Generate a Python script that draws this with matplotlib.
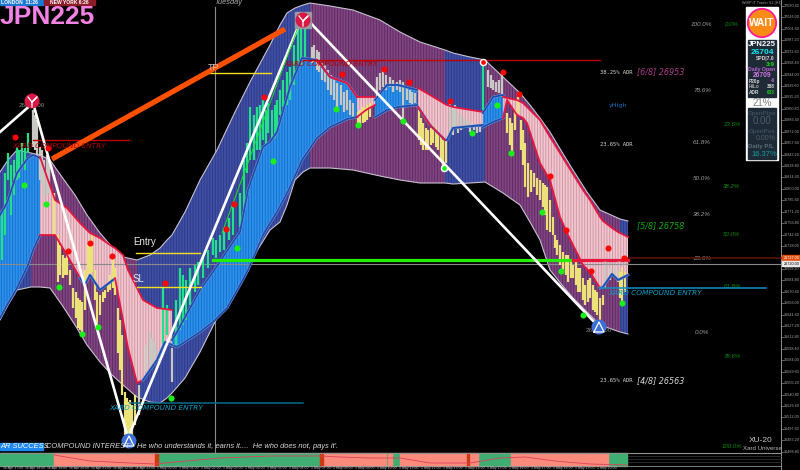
import numpy as np
import matplotlib
matplotlib.use('Agg')
import matplotlib.pyplot as plt
from matplotlib.patches import Circle, Rectangle

# everything: x = chart column, y = chart row
env_x = [0,8,17,31,40,50,62,75,87,100,112,123,137,150,160,167,172,185,200,217,235,250,270,280,287,295,303,310,330,353,380,400,420,445,453,470,485,503,520,530,540,550,562,573,587,600,620,628]
env_top = [172,160,150,153,155,160,177,195,215,233,247,257,260,255,248,240,235,212,180,150,112,82,45,25,13,8,5,3,6,10,20,32,42,50,53,57,60,77,93,105,118,132,152,170,192,210,219,221]
env_bot = [320,305,290,287,287,288,305,325,345,362,375,385,397,402,403,398,393,378,352,318,285,262,230,222,205,180,172,168,168,170,176,180,183,183,184,183,182,193,205,222,240,270,285,298,312,325,332,334]
env_blue = [(0,31),(137,310),(445,485),(620,628)]
env_purple = [(31,137),(310,445),(485,620)]

# inner cloud pieces: x, top, bottom
blue1_x = [0,7,17,28,33,40]
blue1_top = [215,203,173,158,155,158]
blue1_bot = [318,305,288,265,250,235]
pink1_x = [40,55,67,80,85,90,100,113,115,123,128,137,143,157,165,172]
pink1_top = [157,200,208,223,228,233,238,247,248,255,270,288,300,308,309,310]
pink1_bot = [235,235,255,278,285,275,290,280,278,320,348,383,380,360,342,345]
blue2_x = [172,177,200,213,227,240,248,263,270,277,290,302,317,330,347,357]
blue2_top = [340,332,290,272,251,232,190,147,142,132,87,58,60,77,83,97]
blue2_bot = [345,347,332,322,308,285,270,235,223,212,187,160,138,127,119,117]
pink2_x = [357,366,375]
pink2_top = [97,97,97]
pink2_bot = [117,110,105]
blue3_x = [375,387,398,417]
blue3_top = [100,85,85,90]
blue3_bot = [117,110,107,105]
pink3_x = [418,430,445,447,453,483]
pink3_top = [88,95,104,105,107,112]
pink3_bot = [107,125,140,140,128,125]
blue4_x = [483,493,503]
blue4_top = [113,97,95]
blue4_bot = [127,122,118]
pink4_x = [503,507,517,523,527,540,550,560,568,583,590,600,603,612,618,628]
pink4_top = [97,98,100,103,107,120,137,153,166,190,200,217,221,228,232,237]
pink4_bot = [118,100,115,118,123,163,180,217,235,265,272,288,287,274,280,275]

# candles: column, high row, low row
green_x = [2,5,8,11,14,17,19,22,25,28,163,167,176,180,183,186,190,195,198,203,208,213,216,220,224,229,233,240,244,247,250,254,257,260,263,266,268,272,275,277,280,283,287,290,294,298,301,305,483]
green_hi = [210,173,153,165,160,147,150,143,148,133,288,305,300,268,275,280,268,265,262,255,250,238,240,235,228,218,207,193,160,143,107,115,107,105,100,110,103,110,105,100,90,80,72,67,45,23,28,23,62]
green_lo = [260,235,180,215,195,180,178,167,170,153,345,335,345,330,325,320,305,292,285,278,268,255,258,252,250,240,235,227,210,173,160,160,150,150,140,145,133,140,138,133,115,107,105,100,85,67,65,57,110]
grey_x = [33,35,37,40,42,44,47,49,139,146,150,152,155,158,172,312,314,317,319,322,325,328,331,334,337,341,344,347,350,353,377,380,383,386,390,393,397,400,403,407,410,412,415,450,453,455,458,461,464,467,470,474,477,480,488,491,493,496,499,502,605,610,615,618]
grey_hi = [110,115,120,147,150,160,155,160,385,345,332,338,342,350,348,47,45,50,52,63,65,70,75,78,83,85,92,90,100,103,77,73,70,75,77,80,82,80,82,88,90,92,93,100,110,105,113,115,118,120,122,124,125,127,70,75,80,82,80,73,265,268,265,270]
grey_lo = [147,150,157,180,185,200,195,193,415,372,368,365,362,360,382,63,62,70,72,80,82,90,95,100,110,105,112,110,115,117,97,90,87,90,87,92,90,92,120,100,103,105,103,133,135,128,133,130,128,128,132,130,133,132,87,88,90,92,93,97,288,280,278,282]
yellow_x = [54,58,60,63,65,67,70,73,76,78,80,82,85,88,90,92,95,97,100,103,105,108,110,113,115,118,120,122,125,127,128,130,132,135,358,360,363,365,367,370,419,421,423,426,428,431,433,436,438,441,443,446,507,510,512,515,518,521,523,525,528,531,534,537,540,543,545,547,550,553,555,557,560,563,566,568,571,573,576,578,580,583,585,588,590,593,595,597,600,603,620,622,625]
yellow_hi = [193,235,245,255,258,252,270,288,292,298,300,302,270,245,240,235,270,292,295,292,290,282,275,255,268,308,320,335,392,398,402,400,405,395,112,110,107,108,105,103,110,118,123,128,130,128,125,128,133,135,140,140,113,118,123,110,97,120,130,143,163,170,173,178,180,183,185,187,200,217,235,240,245,252,255,255,260,265,262,268,268,278,285,280,278,285,290,292,298,295,272,268,272]
yellow_lo = [235,282,275,278,275,275,285,308,318,328,330,335,310,278,275,272,300,325,315,302,298,292,290,288,295,353,370,395,435,435,435,435,435,425,128,125,123,122,120,117,140,145,150,150,150,145,143,147,150,160,170,163,133,145,153,130,113,150,165,187,197,192,187,195,200,207,215,230,232,235,248,255,265,272,275,282,278,278,285,292,292,300,305,302,298,310,312,315,325,305,298,302,292]

red_dot_x = [15,48,264,234,226,342,384,409,450,503,519,550,566,68,90,112,165,608,591,624]
red_dot_y = [137,148,97,204,229,74,69,82,101,72,94,176,230,251,243,256,283,248,271,258]
green_dot_x = [24,46,273,336,358,403,472,497,511,542,59,82,98,171,237,561,583,622]
green_dot_y = [185,204,161,109,125,121,133,105,153,212,287,334,327,398,248,271,315,303]

zig_x = [0,33,128,303,597]
zig_y = [132,103,438,15,325]

fib_left_labels = ['100.0%','78.6%','61.8%','50.0%','38.2%','23.6%','0.0%']
fib_left_rows = [25,91,142,179,215,259,332]
fib_right_labels = ['0.0%','23.6%','38.2%','50.0%','61.8%','78.6%','100.0%']
fib_right_rows = [25,125,186,235,286,356,447]

price_ticks = [27030.4 - 14.4 * i for i in range(40)]

panel_green = [(0,54),(158,320),(386,388),(392,400),(478,511),(608,627)]
panel_salmon = [(54,155),(323,386),(388,392),(400,467),(469,478),(511,608)]
panel_dark = [(155,158),(320,323),(467,469)]
panel_line_x = [54,90,130,155,175,220,270,320,340,370,400,430,470,500,525,555,590,627]
panel_line_y = [455,461,463,464,462,458,456,456,457,458,458,463,463,458,457,461,464,465]
date_labels = ['16 Apr 17:00','16 Apr 18:00','16 Apr 19:00','16 Apr 20:00','16 Apr 21:00','16 Apr 22:00','16 Apr 23:00',
               '1 May 00:00','1 May 01:00','1 May 02:00','1 May 03:00','1 May 04:00','1 May 05:00','1 May 06:00','1 May 07:00',
               '1 May 08:00','1 May 09:00','1 May 10:00','1 May 11:00','1 May 12:00','1 May 13:00','1 May 14:00','1 May 15:00',
               '1 May 16:00','1 May 17:00','1 May 18:00','1 May 19:00','1 May 20:00']

RED = '#e5173f'
BLUE = '#1650b4'


def striped(ax, x, top, bot, face, stripe, z):
    ax.fill_between(x, top, bot, facecolor=face, edgecolor=stripe, hatch='||||||', linewidth=0, zorder=z)


def edge(ax, x, y, col, z=6):
    if col == BLUE:
        ax.plot(x, y, color='#8c9cd0', lw=1.9, zorder=z)
    ax.plot(x, y, color=col, lw=1.3, zorder=z)


def cloud(ax, x, top, bot, kind, top_col, bot_col):
    if kind == 'blue':
        striped(ax, x, top, bot, '#2a92ee', '#1b6fc8', 3)
    else:
        striped(ax, x, top, bot, '#f2c6cc', '#cf98aa', 3)
    edge(ax, x, top, top_col)
    edge(ax, x, bot, bot_col)


def main():
    plt.rcParams['hatch.linewidth'] = 0.7
    plt.rcParams['font.family'] = ['Liberation Sans', 'DejaVu Sans']
    fig = plt.figure(figsize=(8, 4.7), dpi=100, facecolor='black')
    ax = fig.add_axes([0, 0, 1, 1])
    ax.set_xlim(0, 800)
    ax.set_ylim(470, 0)
    ax.axis('off')

    ex = np.array(env_x)
    et = np.array(env_top)
    eb = np.array(env_bot)
    for x0, x1 in env_blue:
        m = (ex >= x0) & (ex <= x1)
        striped(ax, ex[m], et[m], eb[m], '#3f4fa6', '#2f3b86', 2)
    for x0, x1 in env_purple:
        m = (ex >= x0) & (ex <= x1)
        striped(ax, ex[m], et[m], eb[m], '#80457f', '#5f2c68', 2)
    ax.plot(env_x, env_top, color='#c8c0d0', lw=0.8, zorder=3)
    ax.plot(env_x, env_bot, color='#c8c0d0', lw=0.8, zorder=3)

    cloud(ax, blue1_x, blue1_top, blue1_bot, 'blue', BLUE, BLUE)
    cloud(ax, pink1_x, pink1_top, pink1_bot, 'pink', RED, RED)
    cloud(ax, blue2_x, blue2_top, blue2_bot, 'blue', BLUE, BLUE)
    edge(ax, blue2_x[-4:], blue2_top[-4:], RED, 7)
    cloud(ax, pink2_x, pink2_top, pink2_bot, 'pink', RED, RED)
    cloud(ax, blue3_x, blue3_top, blue3_bot, 'blue', BLUE, BLUE)
    cloud(ax, pink3_x, pink3_top, pink3_bot, 'pink', RED, BLUE)
    edge(ax, pink3_x[:3], pink3_bot[:3], RED, 7)
    cloud(ax, blue4_x, blue4_top, blue4_bot, 'blue', BLUE, BLUE)
    cloud(ax, pink4_x, pink4_top, pink4_bot, 'pink', RED, RED)
    edge(ax, pink4_x[-5:], pink4_bot[-5:], BLUE, 7)
    edge(ax, pink1_x[3:8], pink1_bot[3:8], BLUE, 7)
    edge(ax, pink1_x[-4:], pink1_bot[-4:], BLUE, 7)

    ax.vlines(green_x, green_hi, green_lo, color='#22e08c', lw=1.6, zorder=5)
    ax.vlines(grey_x, grey_hi, grey_lo, color='#c9c9c4', lw=1.6, zorder=5)
    ax.vlines(yellow_x, yellow_hi, yellow_lo, color='#ece27a', lw=1.6, zorder=5)

    # horizontal levels
    ax.plot([215, 215], [7, 452], color='#8a8a8a', lw=0.8, zorder=1)
    ax.plot([0, 781], [263.5, 263.5], color='#8a8a8a', lw=0.8, zorder=4)
    ax.plot([628, 781], [258, 258], color='#5c1008', lw=1.2, zorder=4)
    ax.plot([213, 573], [260, 260], color='#22f000', lw=2.3, zorder=8)
    ax.plot([573, 628], [260, 260], color=RED, lw=2.3, zorder=8)
    ax.plot([33, 129], [140, 140], color='#c00000', lw=1, zorder=8)
    ax.plot([303, 600], [60, 60], color='#c00000', lw=1, zorder=8)
    ax.plot([207, 271], [73, 73], color='#f0e020', lw=1, zorder=8)
    ax.plot([136, 200], [253, 253], color='#f0e020', lw=1, zorder=8)
    ax.plot([137, 201], [287, 287], color='#f0e020', lw=1, zorder=8)
    ax.plot([130, 303], [403, 403], color='#056c8c', lw=1.1, zorder=8)
    ax.plot([600, 766], [288, 288], color='#1090c4', lw=1.1, zorder=8)

    ax.plot([52, 285], [159, 29], color='#ff5000', lw=3.8, zorder=8, solid_capstyle='butt')
    ax.plot(zig_x, zig_y, color='white', lw=1.9, zorder=9)
    ax.plot([222, 300], [233, 22], color='#20e020', lw=0.7, zorder=9)

    ax.plot(red_dot_x, red_dot_y, 'o', color='#ff0505', ms=4.4, mew=0, zorder=10)
    ax.plot(green_dot_x, green_dot_y, 'o', color='#18f018', ms=4.4, mew=0, zorder=10)
    ax.plot(444, 168, 'o', color='#18f018', ms=4.4, mec='white', mew=1, zorder=10)
    ax.plot(483, 62, 'o', color='#ff0505', ms=4.4, mec='white', mew=1, zorder=10)

    # pivots
    ax.add_patch(Rectangle((295, 12), 16, 16, color='#9a9aa0', zorder=10))
    for cx, cy, col in [(32, 101, '#d81845'), (303, 20, '#d81845'), (129, 441, '#3e6fd8'), (599, 327, '#3e6fd8')]:
        ax.add_patch(Circle((cx, cy), 6.8, color=col, zorder=11))
    ax.plot([28, 32, 37, 32, 32], [97, 102, 97, 102, 107], color='white', lw=0.9, zorder=12)
    ax.plot([299, 303, 308, 303, 303], [16, 21, 16, 21, 26], color='white', lw=0.9, zorder=12)
    ax.plot([124, 129, 134, 124], [446, 436, 446, 446], color='white', lw=0.9, zorder=12)
    ax.plot([594, 599, 604, 594], [332, 322, 332, 332], color='white', lw=0.9, zorder=12)
    ax.text(32, 105.5, '26861.00', color='#8a8a8a', fontsize=4.5, ha='center', va='center', zorder=9)
    ax.text(599, 330.5, '26601.00', color='#8a8a8a', fontsize=4.5, ha='center', va='center', zorder=9)

    # header
    ax.add_patch(Rectangle((0, 0), 43, 5, color='#1c78d0', zorder=12))
    ax.add_patch(Rectangle((44, 0), 51, 5, color='#8c1c28', zorder=12))
    ax.text(1, 2.6, 'LONDON  11:26', color='white', fontsize=3.6, fontweight='bold', va='center', zorder=13)
    ax.text(50, 2.6, 'NEW YORK 6:26', color='white', fontsize=3.6, fontweight='bold', va='center', zorder=13)
    ax.text(-0.5, 17, 'JPN225', color='#f282e4', fontsize=19, fontweight='bold', va='center', zorder=13)
    ax.text(228, 3, 'Tuesday', color='#b0b0b0', fontsize=5.3, style='italic', ha='center', va='center')

    ax.text(208, 68, 'TP', color='#c8c8c8', fontsize=6.5, va='center', zorder=12)
    ax.text(133, 242, 'Entry', color='#e8e8e8', fontsize=7, va='center', zorder=12)
    ax.text(133, 279, 'SL', color='#e8e8e8', fontsize=7, va='center', zorder=12)

    compound = 'XARD COMPOUND ENTRY'
    for tx, ty, col in [(12, 145.5, '#b80000'), (284, 64.5, '#b80000'), (109, 407.5, '#0a9fc8'), (608, 293, '#0a9fc8')]:
        ax.text(tx, ty, compound, color=col, fontsize=5.3, style='italic', va='center', zorder=12, family='DejaVu Sans')

    for lab, row in zip(fib_left_labels, fib_left_rows):
        ax.text(702, row, lab, color='#9a9a9a', fontsize=4.6, style='italic', ha='center', va='center')
    for lab, row in zip(fib_right_labels, fib_right_rows):
        ax.text(732, row, lab, color='#0e8a0e', fontsize=4.4, style='italic', ha='center', va='center')

    for lab, row in [('38.25% ADR', 72), ('23.65% ADR', 145), ('23.65% ADR', 381)]:
        ax.text(600, row, lab, color='#d8d8d8', fontsize=4.0, va='center', family='DejaVu Sans Mono')
    ax.text(637, 71.5, '[6/8] 26953', color='#b03c8c', fontsize=5.8, style='italic', va='center', family='DejaVu Sans')
    ax.text(637, 226, '[5/8] 26758', color='#10b010', fontsize=5.8, style='italic', va='center', family='DejaVu Sans')
    ax.text(637, 380.5, '[4/8] 26563', color='#d8d8d8', fontsize=5.8, style='italic', va='center', family='DejaVu Sans')
    ax.text(609, 105, 'yHigh', color='#1a6fc8', fontsize=4.6, va='center', family='DejaVu Sans')
    ax.text(603, 264, 'Open Daily', color='#b0b0b0', fontsize=3.8, va='center', zorder=12)
    ax.text(761, 441, 'XU-20', color='#c8c8c8', fontsize=6, ha='center', va='center')
    ax.text(762, 448.5, 'Xard Universe', color='#b8b8b8', fontsize=4.4, ha='center', va='center')

    # ticker line
    ax.add_patch(Rectangle((0, 443), 43, 7, color='#1c88f0', zorder=12))
    ax.text(0, 446.5, 'AR SUCCESS', color='white', fontsize=5.4, style='italic', va='center', zorder=13)
    ax.text(46, 446.5, "COMPOUND INTEREST\u00b0  He who understands it, earns it....  He who does not, pays it'.",
            color='#d8d8d8', fontsize=5.4, style='italic', va='center', zorder=13)

    # lower strip
    for x0, x1 in panel_green:
        ax.add_patch(Rectangle((x0, 453), x1 - x0, 13, color='#3fae72', zorder=2))
    for x0, x1 in panel_salmon:
        ax.add_patch(Rectangle((x0, 453), x1 - x0, 13, color='#fa8a7c', zorder=2))
    for x0, x1 in panel_dark:
        ax.add_patch(Rectangle((x0, 453), x1 - x0, 13, color='#cc3a10', zorder=2))
    ax.plot(panel_line_x, panel_line_y, color='#e04058', lw=0.6, zorder=3)
    ax.plot([0, 781], [452.5, 452.5], color='#909090', lw=0.8, zorder=3)
    ax.plot([0, 781], [466, 466], color='#909090', lw=0.6, zorder=3)
    for row in [456, 459, 462]:
        ax.plot([628, 781], [row, row], color='#3c3c3c', lw=0.5, zorder=3)
    for i, lab in enumerate(date_labels):
        ax.text(13 + i * 22, 467.9, lab, color='#b8b8b8', fontsize=2.5, ha='center', va='center')

    # price scale
    ax.plot([781, 781], [0, 470], color='#909090', lw=0.7)
    for i, p in enumerate(price_ticks):
        row = 6 + i * 11.43
        ax.plot([781, 783], [row, row], color='#909090', lw=0.5)
        ax.text(784, row, f'{p:.2f}', color='#a8a8a8', fontsize=2.7, va='center')
    ax.add_patch(Rectangle((782, 255), 18, 5, color='#e05010', zorder=12))
    ax.text(784, 257.6, '26727.00', color='white', fontsize=2.7, va='center', zorder=13)
    ax.add_patch(Rectangle((782, 261), 18, 5, color='#e8e8e8', zorder=12))
    ax.text(784, 263.6, '26720.00', color='black', fontsize=2.7, va='center', zorder=13)
    ax.text(762, 2.6, 'WHIP IT Trader V2 (H1)', color='#a0a0a0', fontsize=2.7, ha='center', va='center')

    # side panel
    ax.add_patch(Rectangle((746, 7), 32, 153, color='white', zorder=12))
    ax.add_patch(Circle((762, 23), 14.2, facecolor='#ff8a14', edgecolor='#ff1a9c', lw=1.3, zorder=13))
    ax.text(762, 23.5, 'WAIT', color='white', fontsize=7.4, fontweight='bold', ha='center', va='center', zorder=14)
    ax.add_patch(Rectangle((748, 40), 28, 57, color='#1e2a36', zorder=13))
    ax.add_patch(Rectangle((748, 108), 28, 50.5, color='#1e2a36', zorder=13))
    ax.text(762, 45, 'JPN225', color='white', fontsize=5.6, fontweight='bold', ha='center', va='center', zorder=14)
    ax.text(762, 52.5, '26704', color='#10e8f0', fontsize=6, fontweight='bold', ha='center', va='center', zorder=14)
    ax.text(775, 58.7, 'SPD|7.0', color='#d8d8d8', fontsize=3.6, fontweight='bold', ha='right', va='center', zorder=14)
    ax.text(775, 64, '3:9', color='#18e018', fontsize=4.4, fontweight='bold', ha='right', va='center', zorder=14)
    ax.text(762, 70, 'Daily Open', color='#c060d8', fontsize=3.7, fontweight='bold', ha='center', va='center', zorder=14)
    ax.text(762, 75.5, '26709', color='#d078e8', fontsize=4.8, fontweight='bold', ha='center', va='center', zorder=14)
    ax.text(749, 81, 'P20p', color='#d8d8d8', fontsize=3.4, fontweight='bold', va='center', zorder=14)
    ax.text(775, 81, '-6', color='#c060d8', fontsize=3.4, fontweight='bold', ha='right', va='center', zorder=14)
    ax.text(749, 87, 'HiLo', color='#a8a8a8', fontsize=3.4, fontweight='bold', va='center', zorder=14)
    ax.text(775, 87, '388', color='#d8d8d8', fontsize=3.4, fontweight='bold', ha='right', va='center', zorder=14)
    ax.text(749, 93, 'ADR', color='#d8d8d8', fontsize=3.4, fontweight='bold', va='center', zorder=14)
    ax.text(775, 93, '633', color='#18c818', fontsize=3.4, fontweight='bold', ha='right', va='center', zorder=14)
    ax.text(762, 102.5, '21%', color='#808080', fontsize=7, ha='center', va='center', zorder=14)
    ax.text(762, 113.5, 'OpenPips', color='#3c4c5c', fontsize=4.4, fontweight='bold', ha='center', va='center', zorder=14)
    ax.text(762, 121.5, '0.00', color='#4c5c6c', fontsize=7, ha='center', va='center', zorder=14)
    ax.text(762, 131, 'OpenPos', color='#3c4c5c', fontsize=4.4, fontweight='bold', ha='center', va='center', zorder=14)
    ax.text(766, 138.5, '0.00%', color='#4c5c6c', fontsize=5, ha='center', va='center', zorder=14)
    ax.text(761, 146.5, 'Daily P/L', color='#5c6c7c', fontsize=4.4, fontweight='bold', ha='center', va='center', zorder=14)
    ax.text(764, 154, '16.37%', color='#189ca0', fontsize=5.4, ha='center', va='center', zorder=14)

    fig.savefig('out.png', dpi=100, facecolor='black')


if __name__ == '__main__':
    main()
